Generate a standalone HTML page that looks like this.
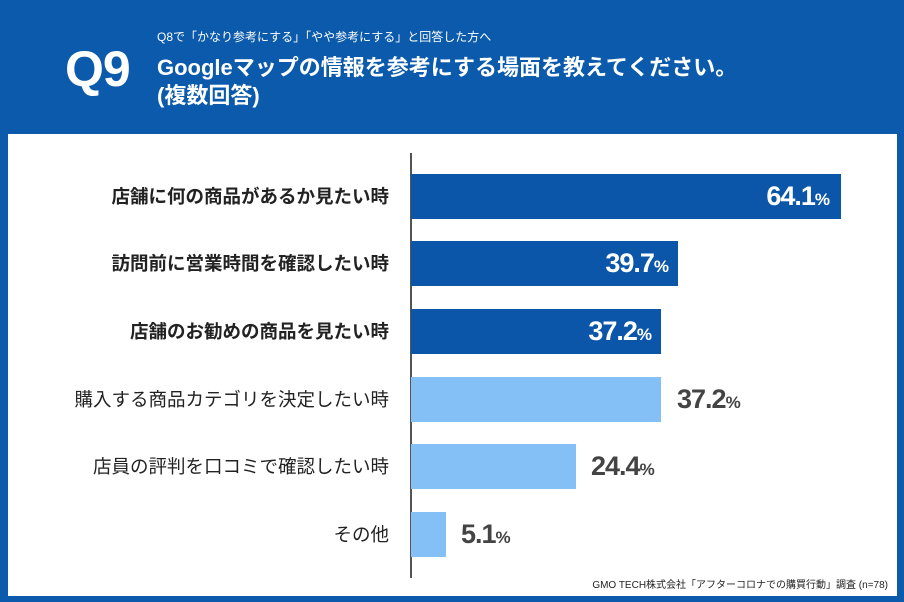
<!DOCTYPE html>
<html><head><meta charset="utf-8"><style>
body{margin:0;width:904px;height:602px;background:#0b5aab;position:relative;overflow:hidden;font-family:"Liberation Sans","Noto Sans CJK JP",sans-serif}
.p{position:absolute;left:8px;top:134px;width:889px;height:462px;background:#fff}
.t{position:absolute;color:#fff;white-space:nowrap}
.ax{position:absolute;left:410px;top:153px;width:1.5px;height:425px;background:#555}
.b{position:absolute;left:411px;height:45px}
.d{background:#0b56a8}.l{background:#84c0f6}
.lab{position:absolute;right:515px;font-size:18.5px;font-weight:bold;color:#222;white-space:nowrap;line-height:45px}
.lab.n{font-weight:normal}
.v{position:absolute;font-size:27px;font-weight:bold;line-height:45px;letter-spacing:-1px}
.v small{font-size:17px}
</style></head><body>
<div class="t" style="left:157px;top:28px;font-size:12px">Q8で「かなり参考にする」「やや参考にする」と回答した方へ</div>
<div class="t" style="left:65px;top:40px;font-size:50px;font-weight:bold;letter-spacing:-1px">Q9</div>
<div class="t" style="left:157px;top:54px;font-size:22px;font-weight:bold;line-height:28px">Googleマップの情報を参考にする場面を教えてください。<br>(複数回答)</div>
<div class="p"></div>
<div class="ax"></div>
<div class="b d" style="top:174px;width:430px"></div>
<div class="b d" style="top:241px;width:267px"></div>
<div class="b d" style="top:309px;width:250px"></div>
<div class="b l" style="top:377px;width:250px"></div>
<div class="b l" style="top:444px;width:165px"></div>
<div class="b l" style="top:512px;width:35px"></div>
<div class="lab" style="top:174px">店舗に何の商品があるか見たい時</div>
<div class="lab" style="top:241px">訪問前に営業時間を確認したい時</div>
<div class="lab" style="top:309px">店舗のお勧めの商品を見たい時</div>
<div class="lab n" style="top:377px">購入する商品カテゴリを決定したい時</div>
<div class="lab n" style="top:444px">店員の評判を口コミで確認したい時</div>
<div class="lab n" style="top:512px">その他</div>
<div class="v" style="top:174px;right:75px;color:#fff">64.1<small>%</small></div>
<div class="v" style="top:241px;right:236px;color:#fff">39.7<small>%</small></div>
<div class="v" style="top:309px;right:253px;color:#fff">37.2<small>%</small></div>
<div class="v" style="top:377px;left:677px;color:#444">37.2<small>%</small></div>
<div class="v" style="top:444px;left:591px;color:#444">24.4<small>%</small></div>
<div class="v" style="top:512px;left:461px;color:#444">5.1<small>%</small></div>
<div style="position:absolute;left:560px;top:576px;width:328px;text-align:right;font-size:10px;color:#222;white-space:nowrap">GMO TECH株式会社「アフターコロナでの購買行動」調査 (n=78)</div>
</body></html>
